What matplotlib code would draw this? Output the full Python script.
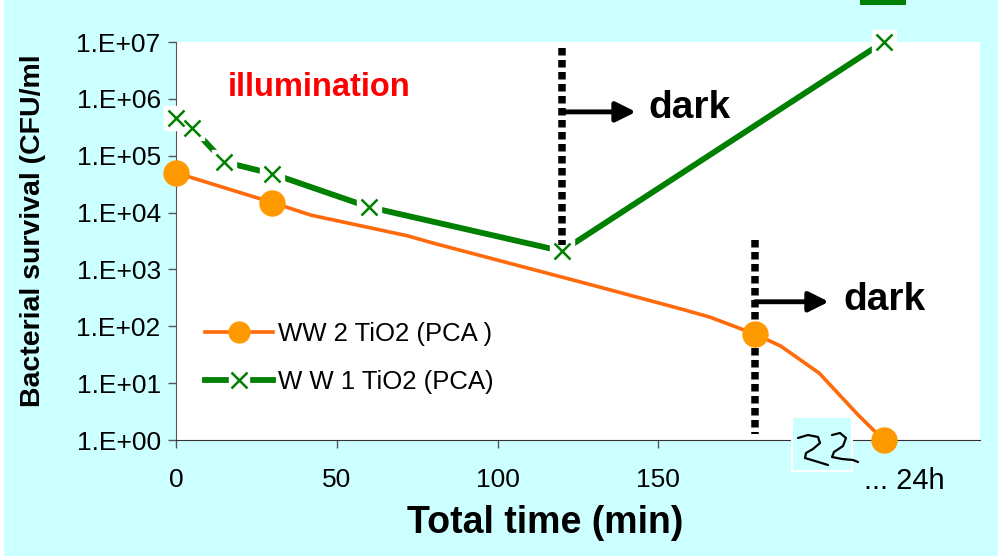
import numpy as np
import matplotlib
matplotlib.use('agg')
import matplotlib.pyplot as plt
from matplotlib.lines import Line2D
from matplotlib.legend_handler import HandlerTuple
from matplotlib.patches import Rectangle

plt.rcParams['font.family'] = ['Liberation Sans', 'DejaVu Sans']

# WW 2 TiO2 curve (markers only on measured points)
ww2_time = [0, 30, 42, 72, 80, 130, 158, 166, 180, 188, 200, 212, 220]
ww2_cfu = [5.0e4, 1.5e4, 9.0e3, 3.9e3, 2.9e3, 5.2e2, 1.95e2, 1.45e2, 73, 45, 15, 2.8, 1.0]
ww2_mark_time = [0, 30, 180, 220]
ww2_mark_cfu = [5.0e4, 1.5e4, 73, 1.0]

# W W 1 TiO2 curve
ww1_time = [0, 5, 15, 30, 60, 120, 220]
ww1_cfu = [4.6e5, 3.1e5, 7.8e4, 4.8e4, 1.25e4, 2.1e3, 1.0e7]

# when the light went off for each run
dark_time = [120, 180]
x_ticks = [0, 50, 100, 150]
y_ticks = [1e0, 1e1, 1e2, 1e3, 1e4, 1e5, 1e6, 1e7]
y_labels = ['1.E+00', '1.E+01', '1.E+02', '1.E+03', '1.E+04', '1.E+05', '1.E+06', '1.E+07']

CYAN = '#CCFFFF'
ORANGE_LINE = '#FF6A0A'
ORANGE_DOT = '#FF9900'
GREEN = '#008000'

W, H = 998, 556
fig = plt.figure(figsize=(W / 100, H / 100), dpi=100)
fig.patch.set_facecolor(CYAN)


def fx(x, y):
    # pixel position -> figure fraction
    return (x / W, 1 - y / H)


# white strip on the left edge and the clipped green block on top
fig.patches.append(Rectangle((0, 0), 4 / W, 1, transform=fig.transFigure,
                             facecolor='white', edgecolor='none', zorder=0))
fig.patches.append(Rectangle(fx(860, 5), 46 / W, 5 / H, transform=fig.transFigure,
                             facecolor=GREEN, edgecolor='none', zorder=0))

ax = fig.add_axes([176 / W, 1 - 440 / H, 804 / W, 398 / H])
ax.set_facecolor('white')
ax.set_yscale('log')
ax.set_xlim(0, 250)
ax.set_ylim(1e0, 1e7)

# orange series
ax.plot(ww2_time, ww2_cfu, color=ORANGE_LINE, lw=2.6, zorder=3, clip_on=False)
ax.plot(ww2_mark_time, ww2_mark_cfu, 'o', color=ORANGE_DOT, ms=18, mec=ORANGE_DOT,
        zorder=6, clip_on=False)

# green series: line, white boxes behind markers, crosses
ax.plot(ww1_time, ww1_cfu, color=GREEN, lw=4.2, zorder=3, clip_on=False)
ax.plot(ww1_time, ww1_cfu, 's', color='white', ms=17, mec='white', zorder=4, clip_on=False)
ax.plot(ww1_time, ww1_cfu, 'x', color=GREEN, ms=12, mew=1.8, zorder=5, clip_on=False)

# dark periods
dots = dict(color='black', lw=5.4, ls=(0, (1, 0.6)), dash_capstyle='butt', zorder=5)
ax.plot([dark_time[0], dark_time[0]], [7.8e6, 2.7e3], **dots)
ax.plot([dark_time[1], dark_time[1]], [3.3e3, 1.25], **dots)
ax.annotate('', xy=(143, 5.9e5), xytext=(dark_time[0], 5.9e5),
            arrowprops=dict(arrowstyle='-|>', color='black', lw=3.5, mutation_scale=30,
                            shrinkA=0, shrinkB=0), zorder=6)
ax.annotate('', xy=(203, 2.7e2), xytext=(dark_time[1], 2.7e2),
            arrowprops=dict(arrowstyle='-|>', color='black', lw=3.5, mutation_scale=30,
                            shrinkA=0, shrinkB=0), zorder=6)
ax.text(147, 6.9e5, 'dark', fontsize=28, fontweight='bold', va='center', ha='left')
ax.text(207.5, 2.9e2, 'dark', fontsize=28, fontweight='bold', va='center', ha='left')
ax.text(16, 1.6e6, 'illumination', fontsize=23.5, fontweight='bold', color='#FF0000',
        va='center', ha='left')

# axes styling
for s in ['top', 'right']:
    ax.spines[s].set_visible(False)
ax.spines['left'].set_color('#555555')
ax.spines['bottom'].set_color('#333333')
ax.set_xticks(x_ticks)
ax.set_xticklabels([str(v) for v in x_ticks])
ax.set_yticks(y_ticks)
ax.set_yticklabels(y_labels)
ax.yaxis.set_minor_locator(matplotlib.ticker.NullLocator())
ax.tick_params(axis='both', direction='out', length=6, width=1, colors='#555555',
               labelcolor='black', labelsize=19)
ax.tick_params(axis='x', pad=14)
ax.tick_params(axis='y', pad=5)

ax.set_xlabel('Total time (min)', fontsize=27, fontweight='bold')
ax.xaxis.set_label_coords((545 - 176) / 804, -(505 - 440) / 398)
ax.set_ylabel('Bacterial survival (CFU/ml', fontsize=20.5, fontweight='bold')
ax.yaxis.set_label_coords(-(176 - 46) / 804, (440 - 231) / 398)

# legend
h_orange = Line2D([], [], color=ORANGE_LINE, lw=2.6, marker='o', ms=15,
                  mfc=ORANGE_DOT, mec=ORANGE_DOT)
h_green_line = Line2D([], [], color=GREEN, lw=4.2)
h_green_box = Line2D([], [], ls='none', marker='s', ms=15, color='white', mec='white')
h_green_x = Line2D([], [], ls='none', marker='x', ms=12, mew=1.8, color=GREEN)
ax.legend([h_orange, (h_green_line, h_green_box, h_green_x)],
          ['WW 2 TiO2 (PCA )', 'W W 1 TiO2 (PCA)'],
          handler_map={tuple: HandlerTuple(ndivide=1, pad=0)},
          loc='upper left', bbox_to_anchor=((205 - 176) / 804, (440 - 322) / 398),
          frameon=False, fontsize=18.5, handlelength=2.65, handletextpad=0.2,
          labelspacing=0.95, borderpad=0, borderaxespad=0)

# axis break box and the "... 24h" label
fig.patches.append(Rectangle(fx(792, 471), 60 / W, 54 / H, transform=fig.transFigure,
                             facecolor=CYAN, edgecolor='white', lw=1.5, zorder=10))
sq1 = [(798, 438), (808, 435), (818, 437), (820, 443), (813, 449), (806, 453),
       (805, 458), (815, 461), (828, 465)]
sq2 = [(832, 435), (840, 433), (846, 438), (843, 446), (834, 452), (832, 457),
       (842, 459), (853, 460), (858, 462)]
for sq in (sq1, sq2):
    xs = [p[0] / W for p in sq]
    ys = [1 - p[1] / H for p in sq]
    fig.add_artist(Line2D(xs, ys, transform=fig.transFigure, color='black', lw=1.6,
                          solid_joinstyle='round', solid_capstyle='round', zorder=11))
fig.text(*fx(864, 481), '... 24h', fontsize=21, ha='left', va='center')

fig.savefig('out.png', dpi=100, facecolor=fig.get_facecolor())
